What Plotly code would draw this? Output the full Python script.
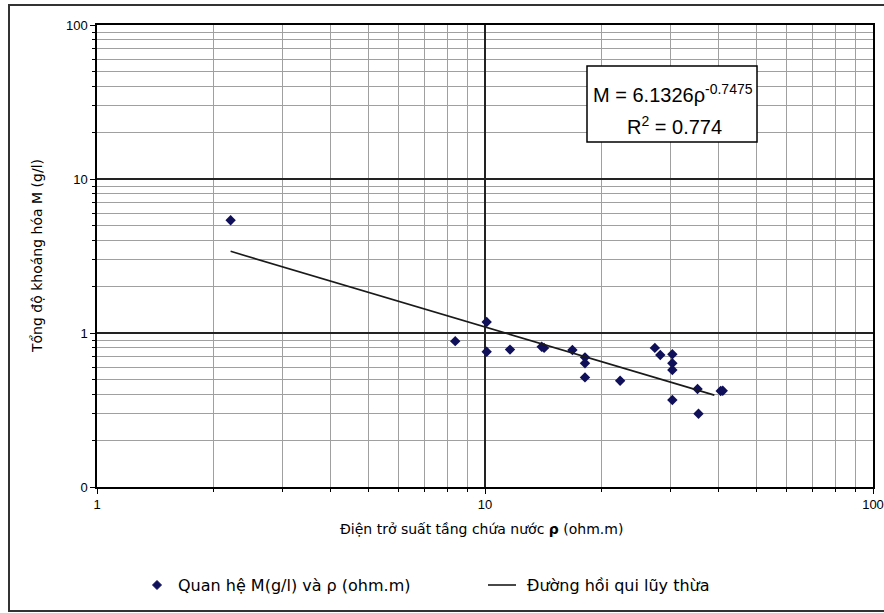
import plotly.graph_objects as go

# ---- data ----
rho = [2.21, 8.38, 10.1, 10.1, 11.6, 14.0, 14.2, 16.8, 18.1, 18.1, 18.1, 22.3,
       27.4, 28.3, 30.4, 30.4, 30.4, 30.4, 35.3, 35.5, 40.5, 41.0]
M = [5.4, 0.885, 1.18, 0.755, 0.78, 0.815, 0.80, 0.775, 0.695, 0.636, 0.515, 0.49,
     0.80, 0.72, 0.727, 0.636, 0.575, 0.367, 0.433, 0.299, 0.42, 0.422]

trend_x = [2.21, 39.0]
trend_y = [3.39, 0.395]

x_tickvals = [1, 10, 100]
x_ticktext = ["1", "10", "100"]
y_tickvals = [0.1, 1, 10, 100]
y_ticktext = ["0", "1", "10", "100"]

series_names = ["Quan hệ M(g/l) và ρ (ohm.m)", "Đường hồi qui lũy thừa"]
x_title = "Điện trở suất tầng chứa nước <b>ρ</b> (ohm.m)"
y_title = "Tổng độ khoáng hóa M (g/l)"
eq_text = "M = 6.1326ρ<sup>-0.7475</sup>"
r2_text = "R<sup>2</sup> = 0.774"

W, H = 884, 613
L, R, T, B = 97, 11, 25, 126
pw, ph = W - L - R, H - T - B

def px(xp):
    return (xp - L) / pw

def py(yp):
    return (H - B - yp) / ph

arial = "Liberation Sans, Arial, sans-serif"
wide = "DejaVu Sans, Verdana, sans-serif"
marker_color = "#10105a"

fig = go.Figure()
fig.add_trace(go.Scatter(
    x=rho, y=M, mode="markers",
    marker=dict(symbol="diamond", size=8, color=marker_color),
    name=series_names[0], showlegend=False,
))
fig.add_trace(go.Scatter(
    x=trend_x, y=trend_y, mode="lines",
    line=dict(color="#1a1a1a", width=1.6),
    name=series_names[1], showlegend=False,
))

axis_common = dict(
    type="log", automargin=False,
    showline=True, linecolor="black", linewidth=1.5, mirror=True,
    showgrid=True, gridcolor="#222222", gridwidth=1.5,
    ticks="outside", ticklen=5, tickcolor="black", tickwidth=1,
    zeroline=False,
    tickfont=dict(family=arial, size=13, color="black"),
)
minor_common = dict(dtick="D1", showgrid=True, gridcolor="#a0a0a0", gridwidth=1,
                    ticks="outside", ticklen=3, tickcolor="black")

fig.update_xaxes(**axis_common, range=[0, 2],
                 tickvals=x_tickvals, ticktext=x_ticktext, minor=minor_common)
fig.update_yaxes(**axis_common, range=[-1, 2],
                 tickvals=y_tickvals, ticktext=y_ticktext, minor=minor_common)

# legend glyph geometry (pixels)
dx, dy = 4.5 / pw, 4.5 / ph
lx, ly = px(157), py(585)
diamond = (f"M {lx - dx},{ly} L {lx},{ly + dy} L {lx + dx},{ly} "
           f"L {lx},{ly - dy} Z")

shapes = [
    # outer chart border
    dict(type="rect", xref="paper", yref="paper",
         x0=px(9), x1=px(892), y0=py(611), y1=py(5),
         line=dict(color="#333333", width=2), fillcolor="rgba(0,0,0,0)", layer="above"),
    # equation box
    dict(type="rect", xref="paper", yref="paper",
         x0=px(587), x1=px(757), y0=py(142), y1=py(66),
         line=dict(color="black", width=1.5), fillcolor="white", layer="above"),
    # legend symbols
    dict(type="path", xref="paper", yref="paper", path=diamond,
         fillcolor=marker_color, line=dict(color=marker_color, width=1)),
    dict(type="line", xref="paper", yref="paper",
         x0=px(488), x1=px(516), y0=py(585), y1=py(585),
         line=dict(color="#1a1a1a", width=1.6)),
]

annotations = [
    dict(text=eq_text, xref="paper", yref="paper", x=px(673), y=py(93),
         showarrow=False, xanchor="center", yanchor="middle",
         font=dict(family=arial, size=20, color="black")),
    dict(text=r2_text, xref="paper", yref="paper", x=px(674), y=py(126),
         showarrow=False, xanchor="center", yanchor="middle",
         font=dict(family=arial, size=20, color="black")),
    dict(text=x_title, xref="paper", yref="paper", x=px(481), y=py(529),
         showarrow=False, xanchor="center", yanchor="middle",
         font=dict(family=wide, size=14, color="black")),
    dict(text=y_title, xref="paper", yref="paper", x=px(37), y=py(256),
         showarrow=False, xanchor="center", yanchor="middle", textangle=-90,
         font=dict(family=wide, size=14, color="black")),
    dict(text=series_names[0], xref="paper", yref="paper", x=px(176), y=py(585),
         showarrow=False, xanchor="left", yanchor="middle",
         font=dict(family=wide, size=16, color="black")),
    dict(text=series_names[1], xref="paper", yref="paper", x=px(525), y=py(585),
         showarrow=False, xanchor="left", yanchor="middle",
         font=dict(family=wide, size=16, color="black")),
]

fig.update_layout(
    width=W, height=H,
    margin=dict(l=L, r=R, t=T, b=B, pad=0),
    paper_bgcolor="white", plot_bgcolor="white",
    showlegend=False,
    shapes=shapes,
    annotations=annotations,
)

fig.write_html("out.html")
